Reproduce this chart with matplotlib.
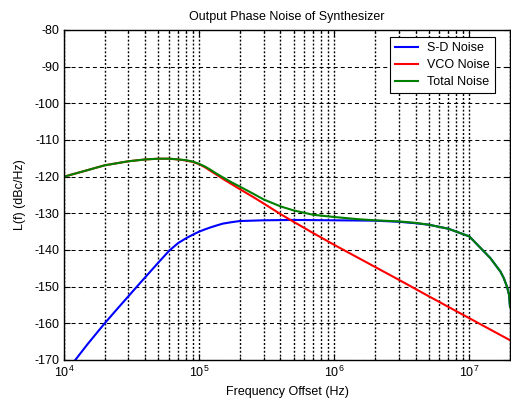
import numpy as np
import matplotlib
matplotlib.use("Agg")
import matplotlib.pyplot as plt
from matplotlib.ticker import LogLocator, MultipleLocator

plt.rcParams['font.family'] = ['Liberation Sans', 'DejaVu Sans']
plt.rcParams['mathtext.default'] = 'regular'
plt.rcParams['axes.unicode_minus'] = False
plt.rcParams['lines.scale_dashes'] = False

# S-D (sigma-delta) noise
sd_freq = [1e4, 1.2e4, 1.5e4, 2e4, 2.5e4, 3e4, 3.5e4, 4e4, 5e4, 6e4, 7e4, 8e4, 9e4,
           1e5, 1.1e5, 1.2e5, 1.35e5, 1.5e5, 1.75e5, 2e5, 3e5, 5e5, 1e6, 2e6, 3e6, 4e6, 5e6, 7e6,
           1e7, 1.2e7, 1.43e7, 1.7e7, 1.8e7, 1.9e7, 1.97e7, 2e7]
sd_noise = [-173.8, -170.2, -165.6, -160.0, -155.9, -152.6, -149.8, -147.4, -143.4, -140.2,
            -138.1, -136.8, -135.8, -135.0, -134.4, -133.9, -133.3, -132.8, -132.4, -132.1,
            -131.9, -131.8, -131.9, -132.0, -132.3, -132.7, -133.1, -134.2, -136.3, -139.3,
            -142.2, -145.9, -147.7, -150.0, -152.3, -155.5]

# VCO noise
vco_freq = [1e4, 1.5e4, 2e4, 3e4, 4e4, 5e4, 6e4, 7e4, 8e4, 9e4, 1e5, 1.1e5, 1.2e5, 1.35e5, 1.5e5,
            1.75e5, 2e5, 2.5e5, 3e5, 4e5, 5e5, 7e5, 1e6, 2e6, 3e6, 5e6, 1e7, 2e7]
vco_noise = [-120.0, -118.2, -116.9, -115.8, -115.3, -115.1, -115.1, -115.3, -115.6, -116.0,
             -116.6, -117.4, -118.3, -119.5, -120.6, -122.1, -123.4, -125.5, -127.3, -130.2,
             -132.3, -135.4, -138.6, -144.6, -148.1, -152.6, -158.6, -164.6]

# total noise
tot_freq = [1e4, 1.5e4, 2e4, 3e4, 4e4, 5e4, 6e4, 7e4, 8e4, 9e4, 1e5, 1.1e5, 1.2e5, 1.35e5, 1.5e5,
            1.75e5, 2e5, 2.5e5, 3e5, 4e5, 5e5, 7e5, 1e6, 1.5e6, 2e6, 3e6, 4e6, 5e6, 7e6,
            1e7, 1.2e7, 1.43e7, 1.7e7, 1.8e7, 1.9e7, 1.97e7, 2e7]
tot_noise = [-120.0, -118.2, -116.9, -115.8, -115.3, -115.1, -115.1, -115.3, -115.5, -115.9,
             -116.5, -117.2, -118.0, -119.2, -120.2, -121.6, -122.7, -124.6, -126.2, -128.1,
             -129.2, -130.4, -131.0, -131.6, -131.9, -132.2, -132.6, -133.1, -134.2, -136.3,
             -139.3, -142.2, -145.9, -147.7, -150.0, -152.3, -155.5]

fig = plt.figure(figsize=(5.11, 4.0), dpi=100)
ax = fig.add_axes([64/511, 40/400, 446/511, 330/400])

ax.semilogx(sd_freq, sd_noise, color=(0, 0, 1), lw=1.5, label='S-D Noise')
ax.semilogx(vco_freq, vco_noise, color=(1, 0, 0), lw=1.5, label='VCO Noise')
ax.semilogx(tot_freq, tot_noise, color=(0, 0.5, 0), lw=1.5, label='Total Noise')

ax.set_xlim(1e4, 2e7)
ax.set_ylim(-170, -80)
ax.yaxis.set_major_locator(MultipleLocator(10))
ax.xaxis.set_major_locator(LogLocator(base=10))
ax.xaxis.set_minor_locator(LogLocator(base=10, subs=np.arange(2, 10)))

# matlab style grid
ax.grid(True, axis='x', which='both', color='black', lw=1.0, linestyle=(0, (1.4, 1.4)))
ax.grid(True, axis='y', which='major', color='black', lw=0.75, linestyle=(0, (2.9, 2.2)))

ax.tick_params(which='both', direction='in', top=True, right=True, labelsize=9, colors='black')
ax.tick_params(which='major', length=4, width=0.8)
ax.tick_params(which='minor', length=2.5, width=0.8)
for s in ax.spines.values():
    s.set_linewidth(1.0)

ax.set_title('Output Phase Noise of Synthesizer', fontsize=9, pad=7)
ax.set_xlabel('Frequency Offset (Hz)', fontsize=9, labelpad=4)
ax.set_ylabel('L(f) (dBc/Hz)', fontsize=9, labelpad=6)

leg = ax.legend(loc='upper right', bbox_to_anchor=(0.966, 0.979), fontsize=9,
                fancybox=False, framealpha=1, edgecolor='black', borderpad=0.4,
                labelspacing=0.4, handlelength=1.9, handletextpad=0.7, borderaxespad=0)
leg.get_frame().set_linewidth(0.8)

fig.savefig('out.png', dpi=100)
